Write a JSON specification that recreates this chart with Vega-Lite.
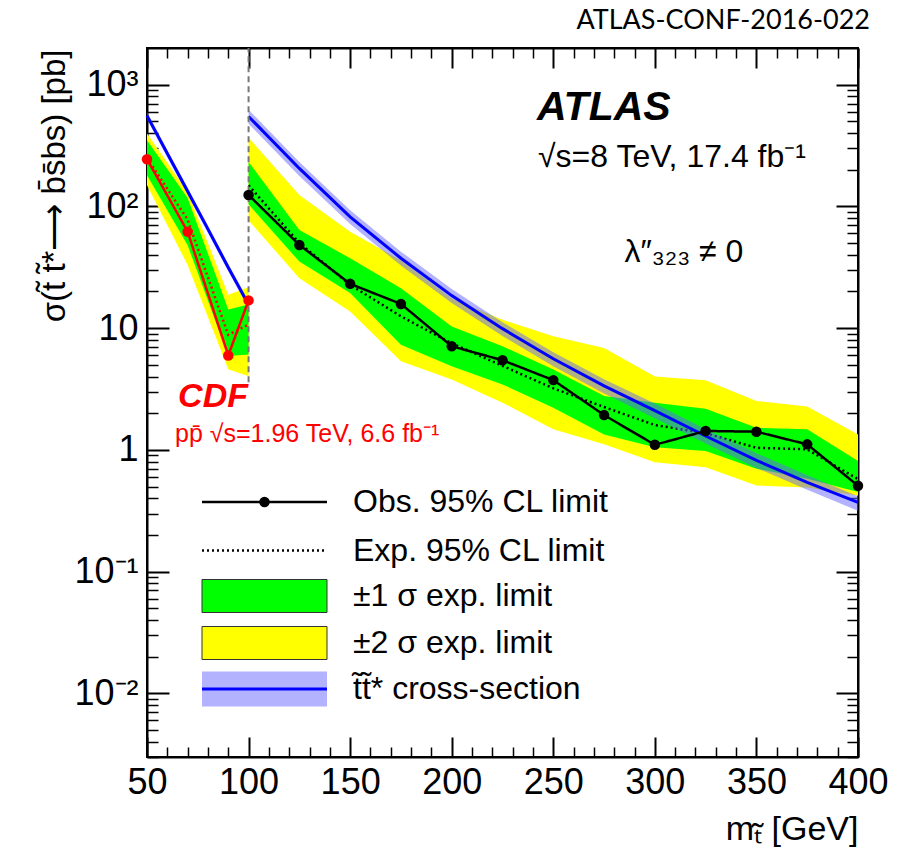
{
  "$schema": "https://vega.github.io/schema/vega-lite/v6.json",
  "width": 711,
  "height": 709,
  "autosize": {"type": "none"},
  "padding": {"left": 147, "top": 48, "right": 42, "bottom": 98},
  "background": "white",
  "config": {
    "view": {"stroke": "black", "strokeWidth": 2},
    "font": "Liberation Sans",
    "axis": {"grid": false, "domain": false, "tickColor": "black", "labelColor": "black", "titleColor": "black", "labelFont": "Liberation Sans", "titleFont": "Liberation Sans", "zindex": 1},
    "legend": {"labelFont": "Liberation Sans", "labelColor": "black", "labelLimit": 0, "padding": 0, "symbolOffset": 0}
  },
  "datasets": {
    "lhc": [
      {"mass": 100, "obs": 124, "exp": 149, "s1lo": 104, "s1hi": 232, "s2lo": 77, "s2hi": 367, "xs": 548, "xslo": 478, "xshi": 622},
      {"mass": 125, "obs": 48.2, "exp": 50, "s1lo": 35.2, "s1hi": 64, "s2lo": 25.7, "s2hi": 124, "xs": 205, "xslo": 178, "xshi": 232},
      {"mass": 150, "obs": 23.1, "exp": 22.7, "s1lo": 19.4, "s1hi": 37.5, "s2lo": 13.7, "s2hi": 62, "xs": 82, "xslo": 71.5, "xshi": 93},
      {"mass": 175, "obs": 15.8, "exp": 12.5, "s1lo": 7.3, "s1hi": 21.3, "s2lo": 5.35, "s2hi": 36, "xs": 37.5, "xslo": 32.7, "xshi": 42.5},
      {"mass": 200, "obs": 7.1, "exp": 7.5, "s1lo": 4.87, "s1hi": 10.3, "s2lo": 3.79, "s2hi": 17.5, "xs": 18.5, "xslo": 16.1, "xshi": 21},
      {"mass": 225, "obs": 5.45, "exp": 4.9, "s1lo": 3.45, "s1hi": 7.1, "s2lo": 2.44, "s2hi": 11.7, "xs": 9.9, "xslo": 8.6, "xshi": 11.2},
      {"mass": 250, "obs": 3.74, "exp": 3.2, "s1lo": 2.22, "s1hi": 4.57, "s2lo": 1.48, "s2hi": 8.57, "xs": 5.6, "xslo": 4.87, "xshi": 6.35},
      {"mass": 275, "obs": 1.93, "exp": 2.25, "s1lo": 1.34, "s1hi": 2.77, "s2lo": 1.11, "s2hi": 6.88, "xs": 3.35, "xslo": 2.9, "xshi": 3.8},
      {"mass": 300, "obs": 1.1, "exp": 1.6, "s1lo": 1.05, "s1hi": 2.44, "s2lo": 0.79, "s2hi": 4.0, "xs": 2.1, "xslo": 1.82, "xshi": 2.4},
      {"mass": 325, "obs": 1.43, "exp": 1.37, "s1lo": 0.98, "s1hi": 2.18, "s2lo": 0.72, "s2hi": 3.74, "xs": 1.3, "xslo": 1.13, "xshi": 1.48},
      {"mass": 350, "obs": 1.41, "exp": 1.04, "s1lo": 0.7, "s1hi": 1.52, "s2lo": 0.51, "s2hi": 2.52, "xs": 0.82, "xslo": 0.71, "xshi": 0.94},
      {"mass": 375, "obs": 1.11, "exp": 1.01, "s1lo": 0.58, "s1hi": 1.48, "s2lo": 0.49, "s2hi": 2.27, "xs": 0.54, "xslo": 0.47, "xshi": 0.62},
      {"mass": 400, "obs": 0.507, "exp": 0.575, "s1lo": 0.45, "s1hi": 0.81, "s2lo": 0.42, "s2hi": 1.34, "xs": 0.37, "xslo": 0.316, "xshi": 0.415}
    ],
    "cdf": [
      {"mass": 50, "obs": 244, "exp": 250, "s1lo": 180, "s1hi": 349, "s2lo": 149, "s2hi": 396},
      {"mass": 70, "obs": 62, "exp": 78, "s1lo": 48, "s1hi": 117, "s2lo": 33, "s2hi": 132},
      {"mass": 90, "obs": 5.96, "exp": 8.8, "s1lo": 5.9, "s1hi": 14.2, "s2lo": 4.6, "s2hi": 18.8},
      {"mass": 100, "obs": 16.9, "exp": 10.7, "s1lo": 6.07, "s1hi": 15.6, "s2lo": 4.03, "s2hi": 21.7}
    ],
    "cdfxs": [
      {"mass": 50, "xs": 557, "xslo": 518, "xshi": 596},
      {"mass": 60, "xs": 272, "xslo": 253, "xshi": 291},
      {"mass": 70, "xs": 133, "xslo": 124, "xshi": 142},
      {"mass": 80, "xs": 65, "xslo": 60.5, "xshi": 69.5},
      {"mass": 90, "xs": 31.5, "xslo": 29.3, "xshi": 33.7},
      {"mass": 100, "xs": 15.6, "xslo": 14.5, "xshi": 16.7}
    ]
  },
  "resolve": {"axis": {"x": "independent", "y": "independent"}},
  "layer": [
    {
      "data": {"name": "lhc"},
      "mark": {"type": "area"},
      "encoding": {
        "x": {"field": "mass", "type": "quantitative", "scale": {"domain": [50, 400], "nice": false, "zero": false},
          "axis": {"orient": "bottom", "values": [50, 100, 150, 200, 250, 300, 350, 400], "tickSize": -20, "tickWidth": 2, "domain": true, "domainColor": "black", "domainWidth": 2, "labelFontSize": 36, "labelPadding": 28, "labelFlush": false, "labelOverlap": false, "format": "d",
            "title": "mₜ̃ [GeV]", "titleFontSize": 34, "titleFontWeight": "normal", "titleAnchor": "end", "titleAlign": "right", "titleX": 711, "titleY": 82, "titleBaseline": "alphabetic"}},
        "y": {"field": "s2lo", "type": "quantitative", "scale": {"type": "log", "domain": [0.003, 2000], "nice": false},
          "axis": {"orient": "left", "values": [0.01, 0.1, 1, 10, 100, 1000], "tickSize": -22, "tickWidth": 2, "domain": true, "domainColor": "black", "domainWidth": 2, "labelFontSize": 36, "labelPadding": 31, "labelOverlap": false, "labelFlush": false,
            "labelExpr": "datum.value > 500 ? '10³' : datum.value > 50 ? '10²' : datum.value > 5 ? '10' : datum.value > 0.5 ? '1' : datum.value > 0.05 ? '10⁻¹' : '10⁻²'",
            "title": "σ(t̃ t̃*⟶ b̄s̄bs) [pb]", "titleFontSize": 33, "titleFontWeight": "normal", "titleAngle": 270, "titleAlign": "right", "titleBaseline": "alphabetic", "titleX": -83, "titleY": 1}},
        "y2": {"field": "s2hi"},
        "fill": {"datum": "±2 σ exp. limit", "type": "nominal",
          "scale": {"domain": ["±1 σ exp. limit", "±2 σ exp. limit"], "range": ["#00ff00", "#ffff00"]},
          "legend": {"orient": "none", "legendX": 101.5, "legendY": 532, "title": null, "symbolType": "M-4.31,-1.138H4.31V1.138H-4.31Z", "symbolSize": 841, "symbolStrokeWidth": 1, "symbolStrokeColor": "#333333", "symbolOpacity": 1, "labelFontSize": 32, "labelOffset": 72.5, "rowPadding": 9}}
      }
    },
    {
      "data": {"name": "lhc"},
      "mark": {"type": "area"},
      "encoding": {
        "x": {"field": "mass", "type": "quantitative", "scale": {"domain": [50, 400], "nice": false, "zero": false},
          "axis": {"orient": "bottom", "values": [60, 70, 80, 90, 110, 120, 130, 140, 160, 170, 180, 190, 210, 220, 230, 240, 260, 270, 280, 290, 310, 320, 330, 340, 360, 370, 380, 390], "tickSize": -10, "tickWidth": 1.5, "labels": false, "title": null}},
        "y": {"field": "s1lo", "type": "quantitative", "scale": {"type": "log", "domain": [0.003, 2000], "nice": false},
          "axis": {"orient": "left", "values": [0.003, 0.004, 0.005, 0.006, 0.007, 0.008, 0.009, 0.02, 0.03, 0.04, 0.05, 0.06, 0.07, 0.08, 0.09, 0.2, 0.3, 0.4, 0.5, 0.6, 0.7, 0.8, 0.9, 2, 3, 4, 5, 6, 7, 8, 9, 20, 30, 40, 50, 60, 70, 80, 90, 200, 300, 400, 500, 600, 700, 800, 900], "tickSize": -11, "tickWidth": 1.5, "labels": false, "title": null}},
        "y2": {"field": "s1hi"},
        "fill": {"datum": "±1 σ exp. limit", "type": "nominal",
          "scale": {"domain": ["±1 σ exp. limit", "±2 σ exp. limit"], "range": ["#00ff00", "#ffff00"]}}
      }
    },
    {
      "data": {"name": "cdf"},
      "mark": {"type": "area"},
      "encoding": {
        "x": {"field": "mass", "type": "quantitative", "scale": {"domain": [50, 400], "nice": false, "zero": false},
          "axis": {"orient": "top", "values": [50, 100, 150, 200, 250, 300, 350, 400], "tickSize": -20, "tickWidth": 2, "domain": true, "domainColor": "black", "domainWidth": 2, "labels": false, "title": null}},
        "y": {"field": "s2lo", "type": "quantitative", "scale": {"type": "log", "domain": [0.003, 2000], "nice": false},
          "axis": {"orient": "right", "values": [0.01, 0.1, 1, 10, 100, 1000], "tickSize": -22, "tickWidth": 2, "domain": true, "domainColor": "black", "domainWidth": 2, "labels": false, "title": null}},
        "y2": {"field": "s2hi"},
        "fill": {"datum": "±2 σ exp. limit", "type": "nominal",
          "scale": {"domain": ["±1 σ exp. limit", "±2 σ exp. limit"], "range": ["#00ff00", "#ffff00"]}}
      }
    },
    {
      "data": {"name": "cdf"},
      "mark": {"type": "area"},
      "encoding": {
        "x": {"field": "mass", "type": "quantitative", "scale": {"domain": [50, 400], "nice": false, "zero": false},
          "axis": {"orient": "top", "values": [60, 70, 80, 90, 110, 120, 130, 140, 160, 170, 180, 190, 210, 220, 230, 240, 260, 270, 280, 290, 310, 320, 330, 340, 360, 370, 380, 390], "tickSize": -10, "tickWidth": 1.5, "labels": false, "title": null}},
        "y": {"field": "s1lo", "type": "quantitative", "scale": {"type": "log", "domain": [0.003, 2000], "nice": false},
          "axis": {"orient": "right", "values": [0.003, 0.004, 0.005, 0.006, 0.007, 0.008, 0.009, 0.02, 0.03, 0.04, 0.05, 0.06, 0.07, 0.08, 0.09, 0.2, 0.3, 0.4, 0.5, 0.6, 0.7, 0.8, 0.9, 2, 3, 4, 5, 6, 7, 8, 9, 20, 30, 40, 50, 60, 70, 80, 90, 200, 300, 400, 500, 600, 700, 800, 900], "tickSize": -11, "tickWidth": 1.5, "labels": false, "title": null}},
        "y2": {"field": "s1hi"},
        "fill": {"datum": "±1 σ exp. limit", "type": "nominal",
          "scale": {"domain": ["±1 σ exp. limit", "±2 σ exp. limit"], "range": ["#00ff00", "#ffff00"]}}
      }
    },
    {
      "data": {"name": "lhc"},
      "mark": {"type": "line", "color": "black", "strokeWidth": 2.5},
      "encoding": {
        "x": {"field": "mass", "type": "quantitative", "scale": {"domain": [50, 400], "nice": false, "zero": false}, "axis": null},
        "y": {"field": "exp", "type": "quantitative", "scale": {"type": "log", "domain": [0.003, 2000], "nice": false}, "axis": null},
        "strokeDash": {"datum": "Exp. 95% CL limit", "type": "nominal",
          "scale": {"domain": ["Obs. 95% CL limit", "Exp. 95% CL limit"], "range": [[1, 0], [2, 3]]},
          "legend": {"orient": "none", "legendX": 101.5, "legendY": 438, "title": null, "symbolType": "M-4.31,-1.207M-4.31,1.207M-4.31,0H4.31", "symbolSize": 841, "symbolStrokeWidth": 2.5, "symbolStrokeColor": "black", "symbolFillColor": "transparent", "labelFontSize": 32, "labelOffset": 72.5, "rowPadding": 2.5}}
      }
    },
    {
      "data": {"name": "cdf"},
      "mark": {"type": "line", "color": "#ff0000", "strokeWidth": 2.5, "strokeDash": [2, 3]},
      "encoding": {
        "x": {"field": "mass", "type": "quantitative", "scale": {"domain": [50, 400], "nice": false, "zero": false}, "axis": null},
        "y": {"field": "exp", "type": "quantitative", "scale": {"type": "log", "domain": [0.003, 2000], "nice": false}, "axis": null}
      }
    },
    {
      "data": {"name": "lhc"},
      "mark": {"type": "area", "fill": "#6666ff"},
      "encoding": {
        "x": {"field": "mass", "type": "quantitative", "scale": {"domain": [50, 400], "nice": false, "zero": false}, "axis": null},
        "y": {"field": "xslo", "type": "quantitative", "scale": {"type": "log", "domain": [0.003, 2000], "nice": false}, "axis": null},
        "y2": {"field": "xshi"},
        "opacity": {"datum": "t̃t̃* cross-section", "type": "nominal",
          "scale": {"type": "ordinal", "domain": ["t̃t̃* cross-section"], "range": [0.5]},
          "legend": {"orient": "none", "legendX": 101.5, "legendY": 625, "title": null, "symbolType": "M-4.31,-1.207H4.31V1.207H-4.31Z", "symbolSize": 841, "symbolStrokeWidth": 0, "symbolStrokeColor": "transparent", "symbolFillColor": "#6666ff", "labelFontSize": 32, "labelOffset": 72.5}}
      }
    },
    {
      "data": {"name": "cdfxs"},
      "mark": {"type": "area", "fill": "#6666ff"},
      "encoding": {
        "x": {"field": "mass", "type": "quantitative", "scale": {"domain": [50, 400], "nice": false, "zero": false}, "axis": null},
        "y": {"field": "xslo", "type": "quantitative", "scale": {"type": "log", "domain": [0.003, 2000], "nice": false}, "axis": null},
        "y2": {"field": "xshi"},
        "opacity": {"datum": "t̃t̃* cross-section", "type": "nominal",
          "scale": {"type": "ordinal", "domain": ["t̃t̃* cross-section"], "range": [0.5]}}
      }
    },
    {
      "data": {"name": "lhc"},
      "mark": {"type": "line", "strokeWidth": 3},
      "encoding": {
        "x": {"field": "mass", "type": "quantitative", "scale": {"domain": [50, 400], "nice": false, "zero": false}, "axis": null},
        "y": {"field": "xs", "type": "quantitative", "scale": {"type": "log", "domain": [0.003, 2000], "nice": false}, "axis": null},
        "stroke": {"datum": "xsline", "type": "nominal", "scale": {"domain": ["xsline"], "range": ["#0000ff"]},
          "legend": {"orient": "none", "legendX": 101.5, "legendY": 625, "title": null, "zindex": 2, "symbolType": "M-4.31,-1.207M-4.31,1.207M-4.31,0H4.31", "symbolSize": 841, "symbolStrokeWidth": 3, "symbolFillColor": "transparent", "labelFontSize": 1, "labelExpr": "''"}}
      }
    },
    {
      "data": {"name": "cdfxs"},
      "mark": {"type": "line", "strokeWidth": 3},
      "encoding": {
        "x": {"field": "mass", "type": "quantitative", "scale": {"domain": [50, 400], "nice": false, "zero": false}, "axis": null},
        "y": {"field": "xs", "type": "quantitative", "scale": {"type": "log", "domain": [0.003, 2000], "nice": false}, "axis": null},
        "stroke": {"datum": "xsline", "type": "nominal", "scale": {"domain": ["xsline"], "range": ["#0000ff"]}}
      }
    },
    {
      "data": {"values": [{}]},
      "mark": {"type": "rule", "color": "#777777", "strokeWidth": 2, "strokeDash": [6, 4]},
      "encoding": {
        "x": {"datum": 100, "type": "quantitative", "scale": {"domain": [50, 400], "nice": false, "zero": false}, "axis": null},
        "y": {"datum": 3.6, "type": "quantitative", "scale": {"type": "log", "domain": [0.003, 2000], "nice": false}, "axis": null},
        "y2": {"datum": 2000}
      }
    },
    {
      "data": {"name": "lhc"},
      "mark": {"type": "line", "color": "black", "strokeWidth": 2.5},
      "encoding": {
        "x": {"field": "mass", "type": "quantitative", "scale": {"domain": [50, 400], "nice": false, "zero": false}, "axis": null},
        "y": {"field": "obs", "type": "quantitative", "scale": {"type": "log", "domain": [0.003, 2000], "nice": false}, "axis": null},
        "strokeDash": {"datum": "Obs. 95% CL limit", "type": "nominal",
          "scale": {"domain": ["Obs. 95% CL limit", "Exp. 95% CL limit"], "range": [[1, 0], [2, 3]]}}
      }
    },
    {
      "data": {"name": "cdf"},
      "mark": {"type": "line", "color": "#ff0000", "strokeWidth": 2.5},
      "encoding": {
        "x": {"field": "mass", "type": "quantitative", "scale": {"domain": [50, 400], "nice": false, "zero": false}, "axis": null},
        "y": {"field": "obs", "type": "quantitative", "scale": {"type": "log", "domain": [0.003, 2000], "nice": false}, "axis": null}
      }
    },
    {
      "data": {"name": "lhc"},
      "mark": {"type": "point", "filled": true, "color": "black", "shape": "circle", "opacity": 1},
      "encoding": {
        "x": {"field": "mass", "type": "quantitative", "scale": {"domain": [50, 400], "nice": false, "zero": false}, "axis": null},
        "y": {"field": "obs", "type": "quantitative", "scale": {"type": "log", "domain": [0.003, 2000], "nice": false}, "axis": null},
        "size": {"datum": "obsdot", "type": "nominal", "scale": {"type": "ordinal", "domain": ["obsdot"], "range": [110]},
          "legend": {"orient": "none", "legendX": 112, "legendY": 448.5, "title": null, "symbolType": "circle", "symbolStrokeWidth": 0, "symbolFillColor": "black", "symbolStrokeColor": "transparent", "labelFontSize": 1, "labelExpr": "''"}}
      }
    },
    {
      "data": {"name": "cdf"},
      "mark": {"type": "point", "filled": true, "size": 110, "color": "#ff0000", "shape": "circle", "opacity": 1},
      "encoding": {
        "x": {"field": "mass", "type": "quantitative", "scale": {"domain": [50, 400], "nice": false, "zero": false}, "axis": null},
        "y": {"field": "obs", "type": "quantitative", "scale": {"type": "log", "domain": [0.003, 2000], "nice": false}, "axis": null}
      }
    },
    {
      "data": {"values": [{}]},
      "mark": {"type": "text", "text": "ATLAS", "font": "Liberation Sans", "fontSize": 41, "fontWeight": "bold", "fontStyle": "italic", "align": "left", "baseline": "alphabetic", "color": "black"},
      "encoding": {
        "x": {"datum": 242, "type": "quantitative", "scale": {"domain": [50, 400], "nice": false, "zero": false}, "axis": null},
        "y": {"datum": 508, "type": "quantitative", "scale": {"type": "log", "domain": [0.003, 2000], "nice": false}, "axis": null}
      }
    },
    {
      "data": {"values": [{}]},
      "mark": {"type": "text", "text": "√s=8 TeV, 17.4 fb⁻¹", "font": "Liberation Sans", "fontSize": 32, "align": "left", "baseline": "alphabetic", "color": "black"},
      "encoding": {
        "x": {"datum": 242.5, "type": "quantitative", "scale": {"domain": [50, 400], "nice": false, "zero": false}, "axis": null},
        "y": {"datum": 210, "type": "quantitative", "scale": {"type": "log", "domain": [0.003, 2000], "nice": false}, "axis": null}
      }
    },
    {
      "data": {"values": [{}]},
      "mark": {"type": "text", "text": "λ″₃₂₃ ≠ 0", "font": "Liberation Sans", "fontSize": 32, "align": "left", "baseline": "alphabetic", "color": "black"},
      "encoding": {
        "x": {"datum": 285, "type": "quantitative", "scale": {"domain": [50, 400], "nice": false, "zero": false}, "axis": null},
        "y": {"datum": 35, "type": "quantitative", "scale": {"type": "log", "domain": [0.003, 2000], "nice": false}, "axis": null}
      }
    },
    {
      "data": {"values": [{}]},
      "mark": {"type": "text", "text": "CDF", "font": "Liberation Sans", "fontSize": 34, "fontWeight": "bold", "fontStyle": "italic", "align": "left", "baseline": "alphabetic", "color": "#ff0000"},
      "encoding": {
        "x": {"datum": 65.3, "type": "quantitative", "scale": {"domain": [50, 400], "nice": false, "zero": false}, "axis": null},
        "y": {"datum": 2.24, "type": "quantitative", "scale": {"type": "log", "domain": [0.003, 2000], "nice": false}, "axis": null}
      }
    },
    {
      "data": {"values": [{}]},
      "mark": {"type": "text", "text": "pp̄  √s=1.96 TeV, 6.6 fb⁻¹", "font": "Liberation Sans", "fontSize": 25, "align": "left", "baseline": "alphabetic", "color": "#ff0000"},
      "encoding": {
        "x": {"datum": 63.8, "type": "quantitative", "scale": {"domain": [50, 400], "nice": false, "zero": false}, "axis": null},
        "y": {"datum": 1.156, "type": "quantitative", "scale": {"type": "log", "domain": [0.003, 2000], "nice": false}, "axis": null}
      }
    },
    {
      "data": {"values": [{}]},
      "mark": {"type": "text", "text": "ATLAS-CONF-2016-022", "font": "Lato", "fontSize": 27, "align": "right", "baseline": "alphabetic", "color": "black"},
      "encoding": {
        "x": {"datum": 405.9, "type": "quantitative", "scale": {"domain": [50, 400], "nice": false, "zero": false}, "axis": null},
        "y": {"datum": 2866, "type": "quantitative", "scale": {"type": "log", "domain": [0.003, 2000], "nice": false}, "axis": null}
      }
    }
  ]
}
